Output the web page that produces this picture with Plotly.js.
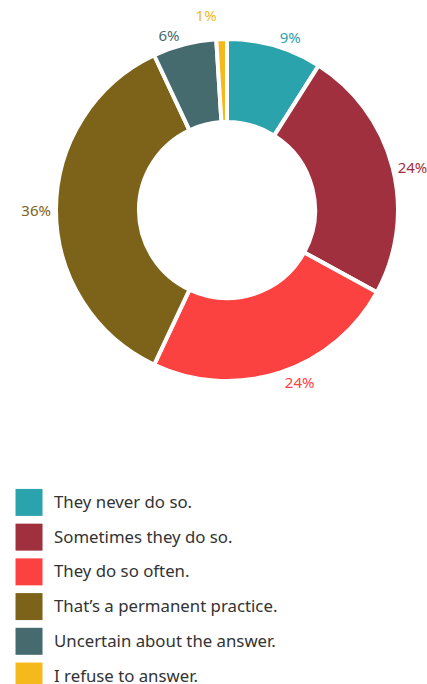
<!DOCTYPE html>
<html>
<head>
<meta charset="utf-8">
<script src="https://cdn.plot.ly/plotly-3.0.1.min.js"></script>
<style>
html,body{margin:0;padding:0;background:#fff;}
#chart{width:427px;height:684px;}
</style>
</head>
<body>
<div id="chart"></div>
<script>
const categories = [
  "They never do so.",
  "Sometimes they do so.",
  "They do so often.",
  "That\u2019s a permanent practice.",
  "Uncertain about the answer.",
  "I refuse to answer."
];
const values = [9, 24, 24, 36, 6, 1];
const colors = ["#2aa3ad", "#a0303e", "#fc4141", "#7d6319", "#456b6e", "#f6b91c"];

const legendLabels = categories.map(c => '<span style="font-size:16.8px">' + c + '</span>');

const trace = {
  type: 'pie',
  labels: legendLabels,
  values: values,
  sort: false,
  direction: 'clockwise',
  rotation: 0,
  hole: 0.515,
  marker: {colors: colors, line: {color: '#ffffff', width: 4}},
  textinfo: 'percent',
  textposition: 'outside',
  outsidetextfont: {family: 'Noto Sans, sans-serif', size: 15, color: colors},
  hoverinfo: 'none',
  domain: {x: [0.1311, 0.9321], y: [0.4430, 0.9430]},
  showlegend: true
};

const layout = {
  width: 427,
  height: 684,
  margin: {l: 0, r: 0, t: 0, b: 0, autoexpand: false},
  paper_bgcolor: '#ffffff',
  font: {family: 'Noto Sans, sans-serif', color: '#333333'},
  showlegend: true,
  legend: {
    x: 0.0094, xanchor: 'left',
    y: 0.3040, yanchor: 'top',
    orientation: 'v',
    font: {family: 'Noto Sans, sans-serif', size: 24.4, color: '#333333'},
    itemwidth: 40,
    bgcolor: 'rgba(0,0,0,0)'
  }
};

Plotly.newPlot('chart', [trace], layout, {displayModeBar: false, staticPlot: true}).then(() => {
  document.querySelectorAll('.legend .legendpoints path').forEach(p => {
    p.setAttribute('transform', 'translate(25,4) scale(2.25)');
    p.style.strokeWidth = '0';
  });
  document.querySelectorAll('path.textline').forEach(p => { p.style.display = 'none'; });
});
</script>
</body>
</html>
